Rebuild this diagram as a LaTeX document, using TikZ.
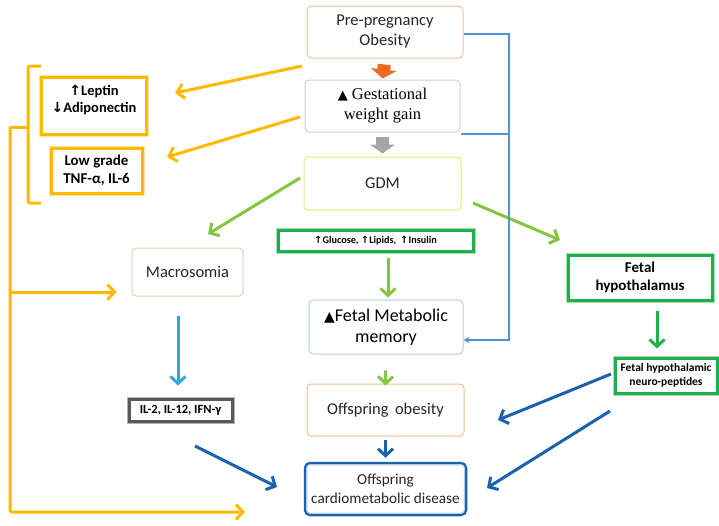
\documentclass[tikz,border=0pt]{standalone}
\usepackage{fontspec}
\setmainfont{Carlito}
\newfontfamily\symf{DejaVu Sans}
\newfontfamily\serf{Liberation Serif}
\usetikzlibrary{arrows.meta,calc}
\definecolor{gold}{HTML}{FFBA00}
\definecolor{goldpale}{HTML}{FBE3A0}
\definecolor{lime}{HTML}{86C540}
\definecolor{dgreen}{HTML}{1FAF4B}
\definecolor{greenpale}{HTML}{A8DDB5}
\definecolor{dblue}{HTML}{1A62B0}
\definecolor{lblue}{HTML}{36A3DC}
\definecolor{mblue}{HTML}{4E92D2}
\definecolor{orangeA}{HTML}{EE6A22}
\definecolor{grayA}{HTML}{A6A6A6}
\definecolor{tanB}{HTML}{F0BE9A}
\definecolor{grayB}{HTML}{D0D0D0}
\definecolor{yelB}{HTML}{F7E27E}
\definecolor{bluB}{HTML}{B5CDE6}
\definecolor{grnB}{HTML}{C6E0B6}
\definecolor{txt}{HTML}{262626}
\begin{document}
\begin{tikzpicture}[x=1pt,y=-1pt,
  box/.style={draw, rounded corners=4pt, fill=white, line width=1pt, inner sep=0pt, align=center, text=txt, font=\fontsize{16.5}{20}\selectfont},
  bbox/.style={draw, fill=white, inner sep=0pt, align=center, text=black, font=\bfseries\fontsize{13}{15.5}\selectfont},
  barr/.style={line width=3pt, -{Straight Barb[length=7pt,width=15pt]}},
  blk/.style={line width=13pt, -{Triangle[length=9pt,width=25pt]}}
]
\useasboundingbox (0,0) rectangle (719,525);
% centre column
\node[box, draw=tanB, minimum width=156pt, minimum height=52pt] (pre) at (385,32) {Pre-pregnancy\\Obesity};
\node[box, draw=grayB, minimum width=155pt, minimum height=52pt, font=\serf\fontsize{16.5}{20}\selectfont, text=black] (gwg) at (382.5,106) {{\symf\fontsize{13}{13}\selectfont ▲} Gestational\\weight gain};
\node[box, draw=yelB, minimum width=157pt, minimum height=53pt] (gdm) at (382.5,183.5) {GDM};
\node[bbox, draw=dgreen, line width=3pt, preaction={draw=greenpale, line width=5pt}, minimum width=195pt, minimum height=21pt, font=\bfseries\fontsize{10.2}{12}\selectfont] (glu) at (375.5,240.5) {{\symf\bfseries\fontsize{10}{10}\selectfont ↑}Glucose, {\symf\bfseries\fontsize{10}{10}\selectfont ↑}Lipids,\, {\symf\bfseries\fontsize{10}{10}\selectfont ↑}Insulin};
\node[box, draw=bluB, minimum width=154pt, minimum height=54pt, text=black, font=\fontsize{18}{21}\selectfont] (fmm) at (386,327) {{\symf\fontsize{14}{14}\selectfont ▲}Fetal Metabolic\\memory};
\node[box, draw=tanB, minimum width=157pt, minimum height=52pt] (obes) at (385.5,410) {Offspring\, obesity};
\node[box, draw=dblue, line width=2.5pt, minimum width=161pt, minimum height=52pt, rounded corners=5pt, font=\fontsize{15.2}{19}\selectfont] (ocd) at (385.5,489) {Offspring\\cardiometabolic disease};
\draw[bluB, line width=1pt, rounded corners=3pt] ($(ocd.north west)+(3,3)$) rectangle ($(ocd.south east)+(-3,-3)$);
% left
\node[bbox, draw=gold, line width=3pt, preaction={draw=goldpale, line width=5pt}, minimum width=105pt, minimum height=57pt] (lep) at (93.5,105.5) {};
\node[font=\bfseries\fontsize{14.5}{17.5}\selectfont, align=center, inner sep=0pt] (leptxt) at (94,100) {{\symf\bfseries\fontsize{14}{14}\selectfont ↑}Leptin\\{\symf\bfseries\fontsize{14}{14}\selectfont ↓}Adiponectin};
\node[bbox, draw=gold, line width=3pt, preaction={draw=goldpale, line width=5pt}, minimum width=91pt, minimum height=45pt, font=\bfseries\fontsize{15}{18}\selectfont] (low) at (96.5,170.5) {Low grade\\TNF-α, IL-6};
\node[box, draw=grnB, minimum width=111pt, minimum height=48pt] (mac) at (187.5,272) {Macrosomia};
\node[bbox, draw=black!65, line width=3pt, preaction={draw=black!30, line width=5pt}, minimum width=103pt, minimum height=22pt, font=\bfseries\fontsize{12.5}{14}\selectfont] (il) at (180.5,410) {IL-2, IL-12, IFN-γ};
% right
\node[bbox, draw=dgreen, line width=3pt, preaction={draw=greenpale, line width=5pt}, minimum width=144pt, minimum height=45pt, font=\bfseries\fontsize{15}{18}\selectfont] (fh) at (640,277.5) {Fetal\\hypothalamus};
\node[bbox, draw=dgreen, line width=3pt, preaction={draw=greenpale, line width=5pt}, minimum width=102pt, minimum height=35pt, font=\bfseries\fontsize{11.5}{14}\selectfont] (fhn) at (666,375.5) {Fetal hypothalamic\\neuro-peptides};
% block arrows
\draw[blk, orangeA, shorten <=6pt, shorten >=1pt] (pre.south) -- (gwg.north);
\draw[blk, grayA, shorten <=4pt, shorten >=3pt] (gwg.south) -- (gdm.north);
% free-end coordinates
\coordinate (y1s) at (302,66);  \coordinate (y1e) at (175,93);
\coordinate (y2s) at (300,117); \coordinate (y2e) at (167,157);
\coordinate (g1s) at (300,178); \coordinate (g1e) at (208,234);
\coordinate (g2s) at (473,203); \coordinate (g2e) at (560,240);
\coordinate (b2s) at (195,446); \coordinate (b2e) at (277,487);
\coordinate (b3s) at (611,374); \coordinate (b3e) at (498,420);
\coordinate (b4s) at (610,411); \coordinate (b4e) at (487,488);
\coordinate (trunk) at (10,127);
\coordinate (yb) at (245,512);
% gold arrows and bracket
\draw[barr, gold] (y1s) -- (y1e);
\draw[barr, gold] (y2s) -- (y2e);
\draw[gold, line width=3pt, rounded corners=2pt] (41,66) -- (28,66) -- (28,203) -- (41,203);
\draw[gold, line width=3pt] (28,127) -- (trunk);
\draw[barr, gold, rounded corners=2pt] (trunk) -- (10,512) -- (yb);
\draw[barr, gold, shorten >=15pt] (10,292) -- (mac.west |- 0,292);
% green arrows
\draw[barr, lime] (g1s) -- (g1e);
\draw[barr, lime] (g2s) -- (g2e);
\draw[barr, lime, shorten <=5pt, shorten >=2pt] (glu.south -| 388,0) -- (fmm.north -| 388,0);
\draw[barr, lime, shorten <=16pt, shorten >=-2pt] (fmm.south) -- (obes.north);
\draw[barr, dgreen, shorten <=9pt, shorten >=8pt] (fh.south -| 657,0) -- (fhn.north -| 657,0);
% blue arrows
\draw[barr, lblue, shorten <=19pt, shorten >=12pt] (mac.south -| 178,0) -- (il.north -| 178,0);
\draw[barr, dblue, shorten <=3pt, shorten >=4pt] (obes.south) -- (ocd.north);
\draw[barr, dblue] (b2s) -- (b2e);
\draw[barr, dblue] (b3s) -- (b3e);
\draw[barr, dblue] (b4s) -- (b4e);
% blue connector
\draw[mblue, line width=1.8pt, -{Stealth[length=6pt,width=6pt]}] (pre.east |- 0,34) -- (509,34) -- (509,340) -- (fmm.east |- 0,340);
\draw[mblue, line width=1.8pt] (gwg.east |- 0,134) -- (509,134);
\end{tikzpicture}
\end{document}
